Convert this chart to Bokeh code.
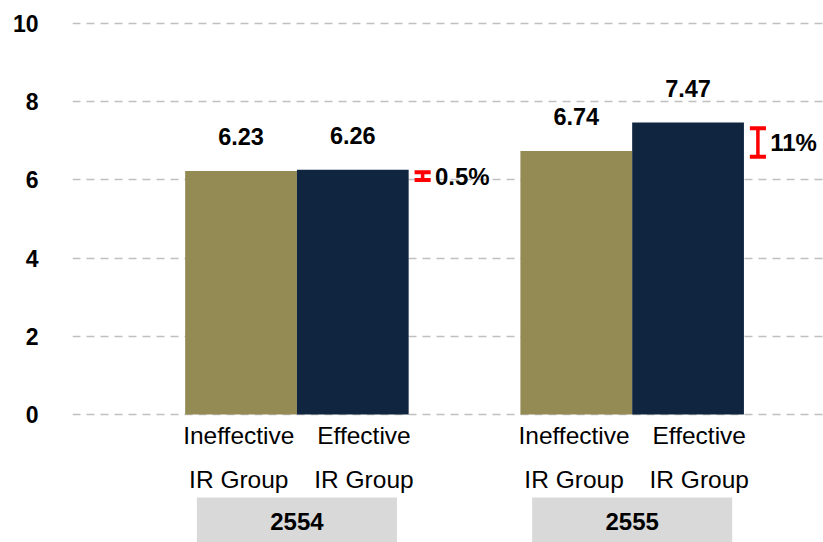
from bokeh.plotting import figure
from bokeh.models import Range1d, FixedTicker, ColumnDataSource, LinearAxis
from bokeh.embed import file_html
from bokeh.resources import INLINE
from bokeh.core.properties import value

# ---- data ----
years = ["2554", "2555"]
groups = ["Ineffective", "Effective"]
group_lines2 = ["IR Group", "IR Group"]
ineffective = [6.23, 6.74]
effective = [6.26, 7.47]
pct_labels = ["0.5%", "11%"]
y_ticks = [0, 2, 4, 6, 8, 10]

OLIVE = "#948A54"
NAVY = "#10253F"
FONT = "Liberation Sans"

p = figure(width=823, height=542, output_backend="svg", toolbar_location=None,
           x_range=Range1d(-1.508, 5.212), y_range=Range1d(-3.273, 10.588),
           min_border_left=72, min_border_right=0, min_border_top=0, min_border_bottom=0,
           x_axis_location=None, y_axis_location=None)
p.outline_line_color = None
p.background_fill_color = "white"
p.border_fill_color = "white"

yaxis = LinearAxis(ticker=FixedTicker(ticks=y_ticks))
yaxis.axis_line_color = None
yaxis.major_tick_line_color = None
yaxis.minor_tick_line_color = None
yaxis.major_tick_out = 0
yaxis.major_tick_in = 0
yaxis.minor_tick_out = 0
yaxis.major_label_standoff = 34
yaxis.major_label_text_font = FONT
yaxis.major_label_text_font_style = "bold"
yaxis.major_label_text_font_size = "23px"
yaxis.major_label_text_color = "black"
p.add_layout(yaxis, "left")

p.xgrid.visible = False
p.ygrid.ticker = FixedTicker(ticks=y_ticks)
p.ygrid.grid_line_color = "#c0c0c0"
p.ygrid.grid_line_dash = "8 6"
p.ygrid.grid_line_width = 1.5

gap = 1  # slot gap between year groups
xs_in, xs_ef = [], []
for i in range(len(years)):
    base = i * (len(groups) + gap)
    xs_in.append(base)
    xs_ef.append(base + 1)

p.vbar(x=xs_in, top=ineffective, width=1.0, bottom=0, fill_color=OLIVE, line_color=None)
p.vbar(x=xs_ef, top=effective, width=1.0, bottom=0, fill_color=NAVY, line_color=None)

# value labels
lbl = ColumnDataSource(dict(
    x=xs_in + xs_ef,
    y=[v + 0.87 for v in ineffective + effective],
    t=["%.2f" % v for v in ineffective + effective]))
p.text(x="x", y="y", text="t", source=lbl, text_align="center", text_baseline="middle",
       text_font=value(FONT), text_font_style="bold", text_font_size="23.5px", text_color="black")

# red difference markers
mx, lo, hi, mid = [], [], [], []
for i in range(len(years)):
    a, b = ineffective[i], effective[i]
    l, h = min(a, b) - 0.15, max(a, b) - 0.15
    c = (l + h) / 2
    half = max((h - l) / 2, 0.1)
    mx.append(xs_ef[i] + 0.625)
    lo.append(c - half)
    hi.append(c + half)
    mid.append(c)
cap = 0.072
p.segment(x0=mx, y0=lo, x1=mx, y1=hi, line_color="red", line_width=3.5)
p.segment(x0=[x - cap for x in mx], y0=lo, x1=[x + cap for x in mx], y1=lo, line_color="red", line_width=4)
p.segment(x0=[x - cap for x in mx], y0=hi, x1=[x + cap for x in mx], y1=hi, line_color="red", line_width=4)
p.text(x=[x + 0.11 for x in mx], y=mid, text=pct_labels, text_align="left", text_baseline="middle",
       text_font=value(FONT), text_font_style="bold", text_font_size="24px", text_color="black")

# category labels
cx = [x - 0.02 for x in xs_in] + [x + 0.1 for x in xs_ef]
p.text(x=cx, y=[-0.54] * len(cx), text=[groups[0]] * len(xs_in) + [groups[1]] * len(xs_ef),
       text_align="center", text_baseline="middle", text_font=value(FONT),
       text_font_size="24.5px", text_color="black")
p.text(x=cx, y=[-1.66] * len(cx), text=[group_lines2[0]] * len(xs_in) + [group_lines2[1]] * len(xs_ef),
       text_align="center", text_baseline="middle", text_font=value(FONT),
       text_font_size="24.5px", text_color="black")

# year boxes
gc = [(a + b) / 2 for a, b in zip(xs_in, xs_ef)]
p.quad(left=[c - 0.895 for c in gc], right=[c + 0.895 for c in gc], top=[-2.12] * len(gc),
       bottom=[-3.4] * len(gc), fill_color="#D9D9D9", line_color=None)
p.text(x=gc, y=[-2.74] * len(gc), text=years, text_align="center", text_baseline="middle",
       text_font=value(FONT), text_font_style="bold", text_font_size="24px", text_color="black")

open("out.html", "w").write(file_html(p, INLINE))
